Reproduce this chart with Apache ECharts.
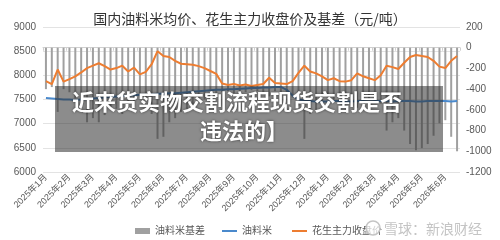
<!DOCTYPE html>
<html>
	<head>
		<meta charset="UTF-8">
		<title></title>
		<script src="https://cdn.jsdelivr.net/npm/echarts@6/dist/echarts.min.js"></script>
	</head>
	<body style="margin:0;background:#fff;">
		<div id="basis_chart" style="width:500px;height:240px;"></div>
		<script>
			// 月份刻度
			var months = ["2025年1月","2025年2月","2025年3月","2025年4月","2025年5月","2025年6月",
				"2025年7月","2025年8月","2025年9月","2025年10月","2025年11月","2025年12月",
				"2026年1月","2026年2月","2026年3月","2026年4月","2026年5月","2026年6月"];
			// 每月的周数（6月只到第3周）
			var weeksPerMonth = [4,4,4,4,4,4,4,4,4,4,4,4,4,4,4,4,4,3];

			// 油料米基差（右轴）
			var basisData = [-400,-380,-620,-400,-430,-490,-560,-720,-680,-720,
				-650,-580,-590,-640,-520,-570,-450,-480,-640,-880,
				-860,-720,-680,-620,-590,-560,-530,-500,-470,-460,
				-430,-420,-440,-420,-430,-410,-420,-430,-470,-420,
				-430,-450,-480,-560,-880,-640,-600,-540,-480,-500,
				-450,-440,-470,-580,-520,-500,-460,-540,-800,-720,
				-680,-800,-930,-990,-970,-930,-850,-730,-700,-860,
				-1000];
			// 油料米均价（左轴）
			var mealData = [7530,7520,7510,7500,7500,7490,7500,7510,7520,7530,
				7540,7550,7560,7570,7580,7590,7600,7600,7610,7620,
				7620,7630,7630,7640,7650,7660,7670,7680,7690,7700,
				7700,7710,7710,7720,7730,7740,7740,7750,7750,7760,
				7760,7700,7580,7500,7480,7470,7460,7460,7460,7470,
				7470,7460,7460,7470,7470,7460,7470,7470,7470,7460,
				7470,7470,7470,7460,7460,7470,7470,7470,7470,7460,
				7470];
			// 花生主力收盘价（左轴）
			var peanutData = [7880,7820,8120,7870,7920,7980,8060,8150,8200,8250,
				8190,8120,8150,8200,8080,8160,8020,8070,8230,8500,
				8400,8380,8300,8240,8230,8220,8190,8150,8090,8030,
				7830,7800,7820,7790,7810,7780,7800,7820,7950,7840,
				7830,7820,7880,8050,8200,8080,8040,7980,7900,7940,
				7880,7870,7900,8040,7980,7940,7900,8000,8200,8170,
				8130,8260,8380,8420,8400,8380,8300,8180,8150,8300,
				8400];

			var categories = [];
			for (var m = 0; m < months.length; m++) {
				for (var w = 0; w < weeksPerMonth[m]; w++) {
					categories.push(w === 0 ? months[m] : months[m] + "第" + (w + 1) + "周");
				}
			}

			var labelColor = '#595959';
			var fontFam = "'Liberation Sans','Noto Sans CJK SC',sans-serif";
			// 数字不加千分位
			function plainNum(v) { return String(v); }

			var option = {
				animation: false,
				textStyle: {fontFamily: fontFam},
				title: {
					text: '国内油料米均价、花生主力收盘价及基差（元/吨）',
					left: 'center',
					top: 7,
					textStyle: {
						fontSize: 14,
						fontWeight: 'normal',
						color: '#333',
						fontFamily: "'Noto Sans CJK SC',serif"
					}
				},
				legend: [{
					data: ['油料米基差'],
					left: 130,
					top: 221,
					itemWidth: 15,
					itemHeight: 6,
					icon: 'rect',
					textStyle: {fontSize: 10, color: labelColor}
				}, {
					data: ['油料米', '花生主力收盘价'],
					left: 217,
					top: 221,
					itemWidth: 15,
					itemHeight: 2,
					itemGap: 20,
					icon: 'rect',
					textStyle: {fontSize: 10, color: labelColor}
				}],
				grid: {
					left: 43, right: 40, top: 27, bottom: 68
				},
				xAxis: {
					type: 'category',
					data: categories,
					axisLine: {lineStyle: {color: '#d0d0d0'}},
					axisTick: {show: true, interval: 3, length: 3, lineStyle: {color: '#d0d0d0'}},
					axisLabel: {
						interval: 3,
						rotate: 45,
						fontSize: 9,
						margin: 4,
						color: labelColor
					}
				},
				yAxis: [{
					type: 'value',
					min: 6000, max: 9000, interval: 500,
					axisLine: {show: false},
					axisTick: {show: false},
					axisLabel: {fontSize: 10, color: labelColor, margin: 7, formatter: plainNum},
					splitLine: {lineStyle: {color: '#e3e3e3'}}
				}, {
					type: 'value',
					min: -1200, max: 200, interval: 200,
					axisLine: {show: false},
					axisTick: {show: false},
					axisLabel: {fontSize: 10, color: labelColor, margin: 6, formatter: plainNum},
					splitLine: {show: false}
				}],
				series: [{
					name: '油料米基差',
					type: 'bar',
					yAxisIndex: 1,
					barWidth: 2,
					itemStyle: {color: '#a0a0a0'},
					data: basisData
				}, {
					name: '油料米',
					type: 'line',
					showSymbol: false,
					lineStyle: {width: 2, color: '#4a89cc'},
					itemStyle: {color: '#4a89cc'},
					data: mealData
				}, {
					name: '花生主力收盘价',
					type: 'line',
					showSymbol: false,
					lineStyle: {width: 2, color: '#ed7d31'},
					itemStyle: {color: '#ed7d31'},
					data: peanutData
				}],
				graphic: [{
					type: 'rect',
					z: 100,
					shape: {x: 55, y: 86, width: 388, height: 66},
					style: {fill: 'rgba(45,45,45,0.55)'}
				}, {
					type: 'text',
					z: 101,
					style: {
						text: '近来货实物交割流程现货交割是否',
						x: 237, y: 102,
						align: 'center', verticalAlign: 'middle',
						fill: '#fff',
						fontSize: 22, fontWeight: 'bold',
						fontFamily: "'Noto Sans CJK SC'",
						textShadowColor: 'rgba(0,0,0,0.6)',
						textShadowBlur: 3
					}
				}, {
					type: 'text',
					z: 101,
					style: {
						text: '违法的】',
						x: 244, y: 131,
						align: 'center', verticalAlign: 'middle',
						fill: '#fff',
						fontSize: 22, fontWeight: 'bold',
						fontFamily: "'Noto Sans CJK SC'",
						textShadowColor: 'rgba(0,0,0,0.6)',
						textShadowBlur: 3
					}
				}, {
					type: 'circle',
					z: 100,
					shape: {cx: 373, cy: 228, r: 7},
					style: {fill: 'rgba(255,255,255,0.7)', stroke: '#c4c4c4', lineWidth: 1.5}
				}, {
					type: 'text',
					z: 101,
					style: {
						text: '雪球：新浪财经',
						x: 384, y: 229,
						verticalAlign: 'middle',
						fill: '#c4c4c4',
						fontSize: 14,
						fontFamily: "'Noto Sans CJK SC'"
					}
				}]
			};

			var myChart = echarts.init(document.getElementById('basis_chart'));
			myChart.setOption(option);
		</script>
	</body>
</html>
